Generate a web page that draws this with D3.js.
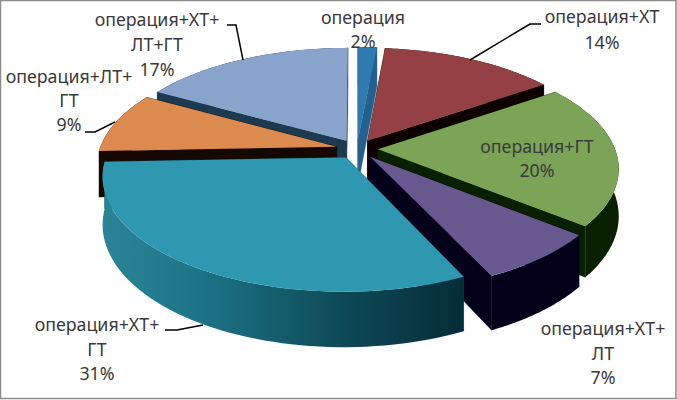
<!DOCTYPE html>
<html>
<head>
<meta charset="utf-8">
<script src="https://cdn.jsdelivr.net/npm/d3@7"></script>
<style>
html,body{margin:0;padding:0;background:#fff;overflow:hidden;}
#main_div{width:677px;height:400px;}
text{font-family:"Noto Sans",sans-serif;font-size:17.8px;fill:#3a3a3a;text-anchor:middle;}
</style>
</head>
<body>
<div id="main_div"></div>
<script>
const categories=["операция","операция+ХТ","операция+ГТ","операция+ХТ+ЛТ","операция+ХТ+ГТ","операция+ЛТ+ГТ","операция+ХТ+ЛТ+ГТ"];
// they round to the printed labels
const values=[1.5,13.9,20.4,7.2,31.4,8.7,16.9];
const labelLines=[
    ["операция","2%"],
    ["операция+ХТ","14%"],
    ["операция+ГТ","20%"],
    ["операция+ХТ+","ЛТ","7%"],
    ["операция+ХТ+","ГТ","31%"],
    ["операция+ЛТ+","ГТ","9%"],
    ["операция+ХТ+","ЛТ+ГТ","17%"]
];
const topColors=["#2f7bb0","#944044","#7ba457","#67598f","#2e98b0","#dc8a4e","#88a4cc"];
const wallColors=["#24608c","#0c0000","#082000","#05001a","#0e4a58","#150800","#1c3a50"];
const tealStops=[[0,"#2a8497"],[0.26,"#1c7487"],[0.46,"#155f70"],[0.68,"#0e4854"],[1,"#042c38"]];

// 3d projection settings
const cx=357,cy=149,radius=237,tilt=110,depth=46,persp=6.3,explode=0.0886;
const drawOrder=[6,0,1,5,2,3,4];

const svg=d3.select("#main_div").append("svg")
    .attr("width",677).attr("height",400).attr("id","main_svg");

const line=d3.line().curve(d3.curveLinear);
const pieData=d3.pie().sort(null).startAngle(0).endAngle(2*Math.PI)(values);

function project(x,y,lift){
    let f=persp/(persp-y);
    return [cx+radius*x*f,cy+f*(tilt*y+lift*depth)];
}

function arcPoints(s,lift){
    let mid=(s.startAngle+s.endAngle)/2;
    let ox=explode*Math.sin(mid),oy=-explode*Math.cos(mid);
    let pts=d3.range(0,61).map(function(i){
        let a=s.startAngle+(s.endAngle-s.startAngle)*i/60;
        return project(ox+Math.sin(a),oy-Math.cos(a),lift);
    });
    return {apex:project(ox,oy,lift),pts:pts};
}

function createGradient(){
    let grad=svg.append("defs").append("linearGradient")
        .attr("id","teal_wall")
        .attr("gradientUnits","userSpaceOnUse")
        .attr("x1",105).attr("x2",465).attr("y1",0).attr("y2",0);
    grad.selectAll("stop").data(tealStops).enter().append("stop")
        .attr("offset",function(d){return d[0]})
        .attr("stop-color",function(d){return d[1]});
}

function drawSlices(){
    let g=svg.append("g").attr("id","slices");
    drawOrder.forEach(function(i){
        let s=pieData[i];
        let top=arcPoints(s,0),bottom=arcPoints(s,1);
        let n=top.pts.length-1;
        let wall=i==4?"url(#teal_wall)":wallColors[i];
        // radial walls
        [0,n].forEach(function(k){
            g.append("path")
                .attr("d",line([top.apex,top.pts[k],bottom.pts[k],bottom.apex])+"Z")
                .attr("fill",wallColors[i])
                .attr("stroke",wallColors[i])
                .attr("stroke-width",0.5);
        });
        // outer wall
        g.append("path")
            .attr("d",line(top.pts.concat(bottom.pts.slice().reverse()))+"Z")
            .attr("fill",wall);
        // top face
        g.append("path")
            .attr("d",line([top.apex].concat(top.pts))+"Z")
            .attr("fill",topColors[i]);
    });
}

function drawLeaders(){
    let leaders=[
        [[227,25],[236,25],[243,60]],
        [[470,60],[530,24],[541,24]],
        [[85,132],[95,132],[115,122]],
        [[165,330],[177,330],[203,325]]
    ];
    svg.append("g").selectAll("path").data(leaders).enter().append("path")
        .attr("d",function(d){return line(d)})
        .attr("fill","none")
        .attr("stroke","#000")
        .attr("stroke-width",1.5);
}

function drawLabels(){
    let anchors=[[363,24],[602,23],[537,153],[603,335],[97,331],[69,83],[157,26]];
    let gap=[24,26,24,24.5,24.5,24,25];
    labelLines.forEach(function(lines,i){
        let t=svg.append("text").attr("class","label").attr("id","label_"+i);
        lines.forEach(function(l,j){
            t.append("tspan")
                .attr("x",anchors[i][0])
                .attr("y",anchors[i][1]+j*gap[i])
                .text(l);
        });
    });
}

function drawFrame(){
    svg.append("rect")
        .attr("x",0.5).attr("y",0.5).attr("width",675.5).attr("height",398)
        .attr("fill","none").attr("stroke","#8c8c8c").attr("stroke-width",1.5);
}

createGradient();
drawSlices();
drawLeaders();
drawLabels();
drawFrame();
</script>
</body>
</html>
